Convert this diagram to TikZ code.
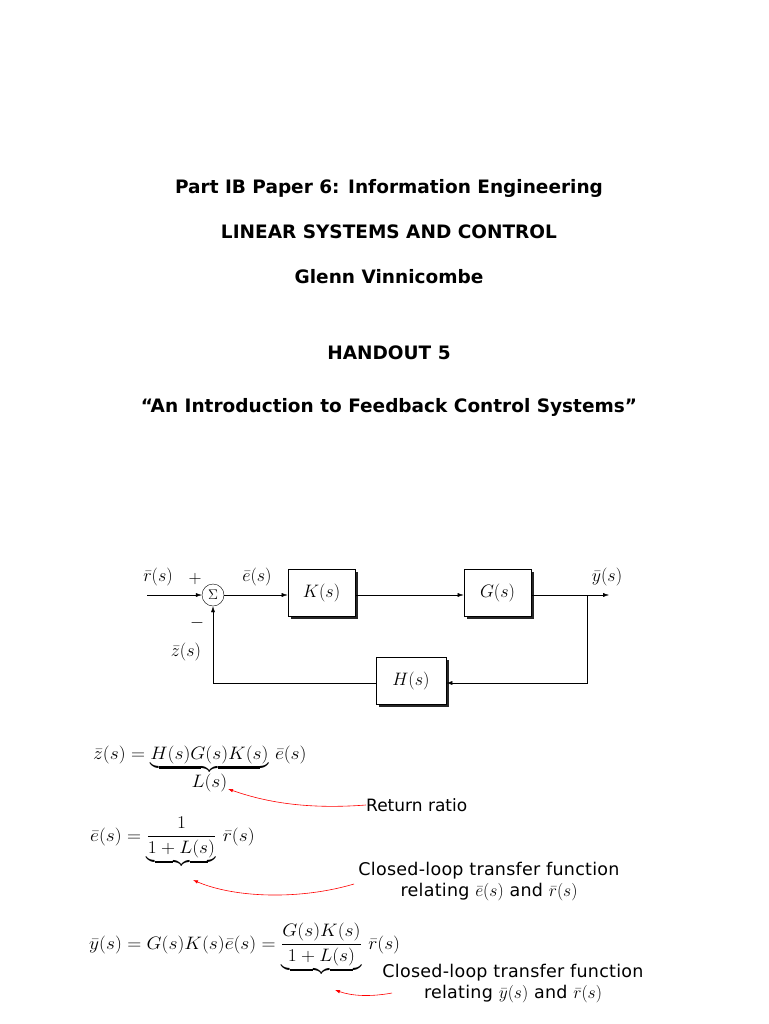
\documentclass[tikz,border=0pt]{standalone}
\usepackage{fix-cm}
\usepackage{amsmath}
\usepackage{graphicx}
\usepackage{fontspec}
\setmainfont{DejaVu Sans}
\usetikzlibrary{arrows.meta,shadows}
\begin{document}
\begin{tikzpicture}[x=1pt,y=-1pt,
  ttl/.style={font=\fontsize{18.5}{22}\selectfont\bfseries},
  mlab/.style={font=\fontsize{18}{21}\selectfont, inner sep=0pt},
  eqn/.style={font=\fontsize{18}{21}\selectfont, inner sep=0pt, anchor=base west},
  note/.style={font=\fontsize{17}{21}\selectfont, inner sep=0pt, align=center},
  wnote/.style={font=\fontsize{17.5}{21}\selectfont\addfontfeatures{LetterSpace=1.5}, inner sep=0pt, align=center},
  blk/.style={draw, thick, fill=white, minimum width=67pt, minimum height=47pt, font=\fontsize{18}{21}\selectfont,
     drop shadow={shadow xshift=3pt, shadow yshift=-3pt, fill=black!85, opacity=1}},
  sig/.style={thin, -{Latex[length=6pt,width=4pt]}},
  redarr/.style={red, semithick, -{Latex[length=5pt,width=3.5pt]}}]
\useasboundingbox (0,0) rectangle (768,1024);

% titles
\node[ttl] (t1) at (389,188) {Part IB Paper 6: Information Engineering};
\node[ttl] (t2) at (389,232) {LINEAR SYSTEMS AND CONTROL};
\node[ttl] (t3) at (389,277) {Glenn Vinnicombe};
\node[ttl] (t4) at (389,353) {HANDOUT 5};
\node[ttl] (t5) at (389,407) {“An Introduction to Feedback Control Systems”};

% block diagram
\coordinate (in) at (147,595);
\node[draw, thin, circle, minimum size=22pt, inner sep=0pt, font=\fontsize{14}{16}\selectfont] (sum) at (213,595) {$\Sigma$};
\node[blk] (K) at (321.5,592.5) {$K(s)$};
\node[blk] (G) at (497.5,592.5) {$G(s)$};
\node[blk, minimum width=70pt] (H) at (411,680.5) {$H(s)$};
\coordinate (out) at (609,595);
\coordinate (br) at (587,595);
\coordinate (brd) at (587,683);
\coordinate (fbl) at (213,683);

\draw[sig] (in) -- (sum.west);
\draw[sig] (sum.east) -- (K.west |- sum.east);
\draw[sig] (K.east |- sum.east) -- (G.west |- sum.east);
\draw[sig] (G.east |- sum.east) -- (out);
\draw[sig] (br) -- (brd) -- (H.east |- brd);
\draw[sig] (H.west |- brd) -- (fbl) -- (sum.south);

\node[mlab] (lr) at (158,577) {$\bar r(s)$};
\node[mlab] (lp) at (195,579) {$+$};
\node[mlab] (lm) at (197,623) {$-$};
\node[mlab] (le) at (257,577) {$\bar e(s)$};
\node[mlab] (ly) at (607,577) {$\bar y(s)$};
\node[mlab] (lz) at (186,652) {$\bar z(s)$};

% equations
\node[eqn] (eq1) at (93,759) {\scalebox{1.08}[1]{$\bar z(s) = \underbrace{H(s)G(s)K(s)}_{\textstyle L(s)}\,\bar e(s)$}};
\node[eqn] (eq2) at (90,841) {\scalebox{1.08}[1]{$\bar e(s) = \underbrace{\dfrac{1}{1+L(s)}}\,\bar r(s)$}};
\node[eqn] (eq3) at (89,949) {\scalebox{1.08}[1]{$\bar y(s) = G(s)K(s)\bar e(s) = \underbrace{\dfrac{G(s)K(s)}{1+L(s)}}\,\bar r(s)$}};

% notes
\node[note, anchor=west] (n1) at (366,805) {Return ratio};
\node[wnote] (n2) at (489,882) {Closed-loop transfer function\\relating $\bar e(s)$ and $\bar r(s)$};
\node[wnote] (n3) at (513,984) {Closed-loop transfer function\\relating $\bar y(s)$ and $\bar r(s)$};

\coordinate (a1) at (228,789);
\coordinate (a2) at (193,880);
\coordinate (a3) at (335,990);
\draw[redarr] (n1.west) .. controls (300,810) and (260,800) .. (a1);
\draw[redarr] (354,884) .. controls (300,900) and (235,898) .. (a2);
\draw[redarr] (392,993) .. controls (370,997) and (352,996) .. (a3);
\end{tikzpicture}
\end{document}
